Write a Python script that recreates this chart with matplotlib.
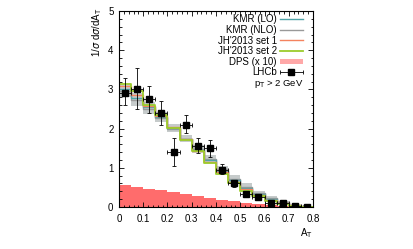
import numpy as np
import matplotlib
matplotlib.use("Agg")
import matplotlib.pyplot as plt
from matplotlib.ticker import MultipleLocator
from matplotlib.patches import Rectangle

plt.rcParams['font.family'] = ['Liberation Sans', 'DejaVu Sans']
plt.rcParams['font.size'] = 7

# bin edges in A_T
edges = np.arange(0, 0.8001, 0.05)
centers = edges[:-1] + 0.025

# LHCb data
lhcb = [2.92, 3.02, 2.75, 2.40, 1.40, 2.10, 1.56, 1.50, 0.95, 0.60, 0.32, 0.25, 0.10, 0.10, 0.02, 0.01]
lhcb_up = [0.38, 0.53, 0.33, 0.30, 0.35, 0.25, 0.19, 0.20, 0.15, 0.09, 0.06, 0.05, 0.03, 0.03, 0.02, 0.01]
lhcb_dn = [0.33, 0.52, 0.35, 0.30, 0.35, 0.20, 0.18, 0.22, 0.10, 0.10, 0.06, 0.05, 0.03, 0.03, 0.02, 0.01]

# model predictions (per bin)
kmr_lo = [3.02, 2.78, 2.55, 2.30, 2.02, 1.74, 1.46, 1.20, 0.93, 0.69, 0.49, 0.33, 0.20, 0.11, 0.04, 0.01]
kmr_nlo = [2.95, 2.72, 2.50, 2.27, 2.00, 1.73, 1.47, 1.22, 0.96, 0.72, 0.52, 0.36, 0.23, 0.13, 0.05, 0.01]
kmr_lo_lo = [2.80, 2.58, 2.38, 2.16, 1.92, 1.66, 1.39, 1.14, 0.88, 0.65, 0.45, 0.30, 0.17, 0.09, 0.03, 0.01]
kmr_lo_hi = [3.10, 2.90, 2.67, 2.42, 2.11, 1.83, 1.57, 1.32, 1.05, 0.81, 0.60, 0.42, 0.27, 0.16, 0.06, 0.02]
jh1 = [3.08, 2.85, 2.58, 2.33, 2.03, 1.73, 1.44, 1.16, 0.89, 0.64, 0.46, 0.31, 0.18, 0.10, 0.04, 0.01]
jh2 = [3.15, 2.95, 2.60, 2.35, 2.02, 1.72, 1.42, 1.12, 0.85, 0.60, 0.42, 0.28, 0.15, 0.08, 0.03, 0.01]
dps = [0.57, 0.52, 0.47, 0.43, 0.38, 0.33, 0.28, 0.23, 0.19, 0.15, 0.11, 0.08, 0.05, 0.03, 0.02, 0.01]

labels = ['KMR (LO)', 'KMR (NLO)', "JH'2013 set 1", "JH'2013 set 2", 'DPS (x 10)', 'LHCb']
colors = ['#4fa3a8', '#999999', '#f4835f', '#9ccc2c', '#ffa8a8', 'black']


def stepvals(v):
    return np.append(v, v[-1])


W, H = 414, 249
L, R, T, B = 119, 313, 11, 207

fig = plt.figure(figsize=(W / 100, H / 100), dpi=100)
ax = fig.add_axes([L / W, 1 - B / H, (R - L) / W, (B - T) / H])


def ax_xy(px, py):
    return (px - L) / (R - L), (B - py) / (B - T)


ax.fill_between(edges, 0, stepvals(dps), step='post', color='#ff5c5c', lw=0, alpha=0.9)
ax.fill_between(edges, stepvals(kmr_lo_lo), stepvals(kmr_lo_hi), step='post', color='#b8bebe', lw=0, alpha=0.8)
ax.step(edges, stepvals(kmr_nlo), where='post', color=colors[1], lw=1.0)
ax.step(edges, stepvals(kmr_lo), where='post', color=colors[0], lw=1.0)
ax.step(edges, stepvals(jh1), where='post', color=colors[2], lw=1.0)
ax.step(edges, stepvals(jh2), where='post', color=colors[3], lw=1.3)
ax.errorbar(centers, lhcb, yerr=[lhcb_dn, lhcb_up], xerr=0.025, fmt='s', color='black',
            ms=4.3, elinewidth=0.6, capsize=1.5, capthick=0.6)

ax.set_xlim(0, 0.8)
ax.set_ylim(0, 5)
ax.xaxis.set_minor_locator(MultipleLocator(0.02))
ax.yaxis.set_major_locator(MultipleLocator(1))
ax.yaxis.set_minor_locator(MultipleLocator(0.2))
ax.set_xticks(np.arange(0, 0.81, 0.1))
ax.set_xticklabels(['0', '0.1', '0.2', '0.3', '0.4', '0.5', '0.6', '0.7', '0.8'])
ax.tick_params(which='both', direction='in', top=True, right=True, width=0.6)
ax.tick_params(which='major', length=3.5, pad=5)
ax.tick_params(axis='y', which='major', pad=4)
ax.tick_params(which='minor', length=1.8)
for s in ax.spines.values():
    s.set_linewidth(0.8)

ax.text(0.8, -0.66, r'A$_\mathrm{T}$', ha='right', va='center', fontsize=7)
fig.text(97 / W, 1 - 7 / H, r'1/$\sigma$ d$\sigma$/dA$_\mathrm{T}$', rotation=90,
         ha='center', va='top', fontsize=7)

# legend, drawn by hand to match the row spacing
row_y = [19.5, 30, 40.5, 51, 61.5, 72]
for i, (lab, col) in enumerate(zip(labels, colors)):
    tx, ty = ax_xy(277, row_y[i])
    ax.text(tx, ty, lab, transform=ax.transAxes, ha='right', va='center', fontsize=7)
    x0, yy = ax_xy(280, row_y[i])
    x1, _ = ax_xy(303, row_y[i])
    if i < 4:
        ax.plot([x0, x1], [yy, yy], transform=ax.transAxes, color=col,
                lw=1.3 if i == 3 else 1.0, clip_on=False)
    elif i == 4:
        _, hh = ax_xy(0, B - 5)
        ax.add_patch(Rectangle((x0, yy - hh / 2), x1 - x0, hh, transform=ax.transAxes,
                               color=col, lw=0))
    else:
        ax.errorbar([(x0 + x1) / 2], [yy], xerr=[(x1 - x0) / 2], fmt='s', color='black',
                    ms=4.3, elinewidth=0.6, capsize=1.5, capthick=0.6,
                    transform=ax.transAxes, clip_on=False)
tx, ty = ax_xy(303, 83.5)
ax.text(tx, ty, r'p$_\mathrm{T}$ > 2 GeV', transform=ax.transAxes, ha='right', va='center', fontsize=6.8)

fig.savefig('out.png', dpi=100)
